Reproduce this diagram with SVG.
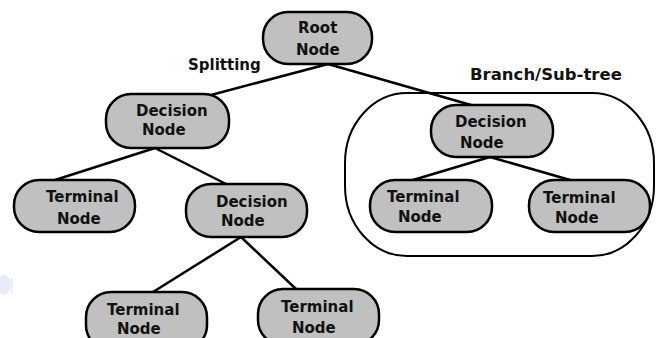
<svg xmlns="http://www.w3.org/2000/svg" width="657" height="338" viewBox="0 0 657 338">
  <style>
    .node rect { fill: #c0c0c0; stroke: #000; stroke-width: 2.5; }
    .node text, .label { font-family: "DejaVu Sans", Verdana, sans-serif; font-weight: bold; font-size: 15px; fill: #111; }
    .edges line { stroke: #000; stroke-width: 2.5; stroke-linecap: round; }
    .subtree { fill: none; stroke: #000; stroke-width: 2; }
  </style>
  <rect width="657" height="338" fill="#fff"/>

  <!-- faint mark at the left margin -->
  <ellipse cx="4" cy="285" rx="7" ry="10" fill="#dfe1f5" opacity="0.7"/>
  <line x1="12" y1="278" x2="12" y2="293" stroke="#eceef8" stroke-width="2"/>

  <!-- branch / sub-tree enclosure -->
  <rect class="subtree" x="345" y="93" width="309" height="163" rx="62" ry="70"/>

  <!-- connectors -->
  <g id="edges" class="edges">
    <line x1="328" y1="64" x2="211" y2="95"/>
    <line x1="328" y1="64" x2="471" y2="105"/>
    <line x1="155" y1="148" x2="55" y2="180"/>
    <line x1="155" y1="148" x2="226" y2="184"/>
    <line x1="241" y1="237" x2="153" y2="292"/>
    <line x1="241" y1="237" x2="296" y2="289"/>
    <line x1="490" y1="157" x2="413" y2="180"/>
    <line x1="490" y1="157" x2="570" y2="180"/>
  </g>

  <!-- labels -->
  <text class="label" x="188" y="70">Splitting</text>
  <text class="label" x="470" y="80" style="font-size:16.5px">Branch/Sub-tree</text>

  <!-- nodes -->
  <g id="root" class="node">
    <rect x="263" y="12" width="109" height="52" rx="25"/>
    <text x="298" y="33">Root</text>
    <text x="296" y="55">Node</text>
  </g>
  <g id="decision-left" class="node">
    <rect x="106" y="94" width="123" height="54" rx="25"/>
    <text x="136" y="116">Decision</text>
    <text x="142" y="135">Node</text>
  </g>
  <g id="terminal-1" class="node">
    <rect x="14" y="180" width="121" height="52" rx="25"/>
    <text x="46" y="202">Terminal</text>
    <text x="57" y="224">Node</text>
  </g>
  <g id="decision-mid" class="node">
    <rect x="186" y="184" width="121" height="53" rx="25"/>
    <text x="216" y="207">Decision</text>
    <text x="221" y="226">Node</text>
  </g>
  <g id="terminal-2" class="node">
    <rect x="86" y="292" width="121" height="58" rx="25"/>
    <text x="107" y="315">Terminal</text>
    <text x="117" y="334">Node</text>
  </g>
  <g id="terminal-3" class="node">
    <rect x="258" y="289" width="121" height="56" rx="25"/>
    <text x="281" y="312">Terminal</text>
    <text x="292" y="333">Node</text>
  </g>
  <g id="decision-right" class="node">
    <rect x="431" y="105" width="122" height="52" rx="25"/>
    <text x="455" y="127">Decision</text>
    <text x="460" y="148">Node</text>
  </g>
  <g id="terminal-4" class="node">
    <rect x="370" y="180" width="122" height="52" rx="25"/>
    <text x="387" y="202">Terminal</text>
    <text x="398" y="222">Node</text>
  </g>
  <g id="terminal-5" class="node">
    <rect x="529" y="180" width="121" height="52" rx="25"/>
    <text x="543" y="203">Terminal</text>
    <text x="555" y="223">Node</text>
  </g>
</svg>
